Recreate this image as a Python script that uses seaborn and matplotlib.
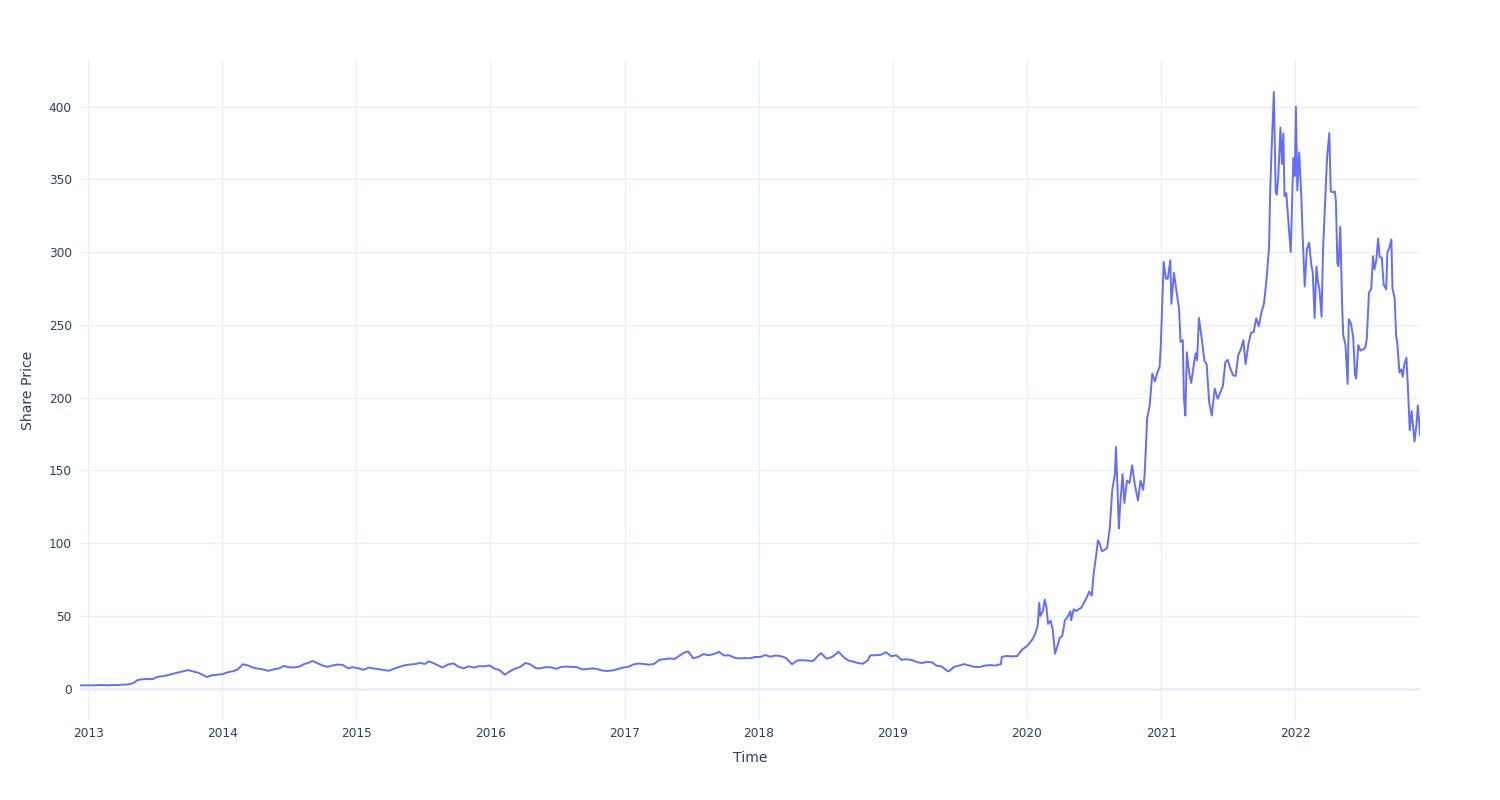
import pandas as pd
import matplotlib
matplotlib.use("Agg")
import matplotlib.pyplot as plt
import matplotlib.dates as mdates
import seaborn as sns

# share price (split adjusted)
dates = [
    "2012-12-10", "2012-12-24", "2013-01-07", "2013-01-22", "2013-02-05", "2013-02-20",
    "2013-03-06", "2013-03-20", "2013-04-03", "2013-04-17", "2013-05-01", "2013-05-09",
    "2013-05-15", "2013-05-29", "2013-06-12", "2013-06-26", "2013-07-10", "2013-07-24",
    "2013-08-07", "2013-08-21", "2013-09-04", "2013-09-18", "2013-10-01", "2013-10-15",
    "2013-10-29", "2013-11-12", "2013-11-20", "2013-12-04", "2013-12-18", "2014-01-02",
    "2014-01-16", "2014-01-30", "2014-02-13", "2014-02-26", "2014-03-12", "2014-03-26",
    "2014-04-09", "2014-04-23", "2014-05-07", "2014-05-21", "2014-06-04", "2014-06-18",
    "2014-07-02", "2014-07-16", "2014-07-30", "2014-08-13", "2014-08-27", "2014-09-04",
    "2014-09-18", "2014-10-01", "2014-10-15", "2014-10-29", "2014-11-12", "2014-11-26",
    "2014-12-10", "2014-12-22", "2015-01-07", "2015-01-21", "2015-02-04", "2015-02-18",
    "2015-03-04", "2015-03-18", "2015-04-01", "2015-04-15", "2015-04-29", "2015-05-13",
    "2015-05-27", "2015-06-10", "2015-06-24", "2015-07-08", "2015-07-17", "2015-07-29",
    "2015-08-12", "2015-08-24", "2015-09-09", "2015-09-23", "2015-10-07", "2015-10-21",
    "2015-11-04", "2015-11-18", "2015-12-02", "2015-12-16", "2015-12-30", "2016-01-13",
    "2016-01-27", "2016-02-10", "2016-02-24", "2016-03-09", "2016-03-23", "2016-04-06",
    "2016-04-20", "2016-05-04", "2016-05-18", "2016-06-01", "2016-06-15", "2016-06-29",
    "2016-07-13", "2016-07-27", "2016-08-10", "2016-08-24", "2016-09-07", "2016-09-21",
    "2016-10-05", "2016-10-19", "2016-11-02", "2016-11-16", "2016-11-30", "2016-12-14",
    "2016-12-28", "2017-01-11", "2017-01-25", "2017-02-08", "2017-02-23", "2017-03-08",
    "2017-03-22", "2017-04-05", "2017-04-19", "2017-05-03", "2017-05-17", "2017-05-31",
    "2017-06-14", "2017-06-23", "2017-07-07", "2017-07-21", "2017-08-04", "2017-08-18",
    "2017-09-01", "2017-09-15", "2017-09-29", "2017-10-13", "2017-10-27", "2017-11-10",
    "2017-11-24", "2017-12-08", "2017-12-22", "2018-01-05", "2018-01-19", "2018-02-02",
    "2018-02-16", "2018-03-02", "2018-03-16", "2018-04-02", "2018-04-16", "2018-04-30",
    "2018-05-14", "2018-05-29", "2018-06-12", "2018-06-20", "2018-07-05", "2018-07-19",
    "2018-08-07", "2018-08-21", "2018-09-04", "2018-09-18", "2018-09-28", "2018-10-12",
    "2018-10-24", "2018-11-02", "2018-11-16", "2018-11-30", "2018-12-14", "2018-12-28",
    "2019-01-11", "2019-01-25", "2019-02-08", "2019-02-22", "2019-03-08", "2019-03-22",
    "2019-04-05", "2019-04-19", "2019-04-30", "2019-05-14", "2019-05-28", "2019-06-03",
    "2019-06-17", "2019-07-01", "2019-07-15", "2019-07-29", "2019-08-12", "2019-08-26",
    "2019-09-09", "2019-09-23", "2019-10-07", "2019-10-23", "2019-10-25", "2019-11-08",
    "2019-11-22", "2019-12-06", "2019-12-20",
    "2020-01-03", "2020-01-10", "2020-01-17", "2020-01-24", "2020-01-31", "2020-02-04",
    "2020-02-07", "2020-02-14", "2020-02-19", "2020-02-24", "2020-02-28", "2020-03-06",
    "2020-03-12", "2020-03-18", "2020-03-24", "2020-03-31", "2020-04-07", "2020-04-14",
    "2020-04-21", "2020-04-29", "2020-05-01", "2020-05-08", "2020-05-15", "2020-05-22",
    "2020-05-29", "2020-06-05", "2020-06-12", "2020-06-19", "2020-06-26", "2020-07-02",
    "2020-07-08", "2020-07-13", "2020-07-17", "2020-07-24", "2020-07-31", "2020-08-07",
    "2020-08-14", "2020-08-21", "2020-08-28", "2020-08-31", "2020-09-04", "2020-09-08",
    "2020-09-11", "2020-09-18", "2020-09-23", "2020-09-30", "2020-10-07", "2020-10-14",
    "2020-10-21", "2020-10-30", "2020-11-06", "2020-11-13", "2020-11-17", "2020-11-24",
    "2020-12-01", "2020-12-08", "2020-12-15", "2020-12-21", "2020-12-28", "2020-12-31",
    "2021-01-08", "2021-01-14", "2021-01-19", "2021-01-26", "2021-01-29", "2021-02-05",
    "2021-02-12", "2021-02-19", "2021-02-23", "2021-03-01", "2021-03-04", "2021-03-08",
    "2021-03-12", "2021-03-18", "2021-03-24", "2021-03-31", "2021-04-05", "2021-04-09",
    "2021-04-14", "2021-04-22", "2021-04-29", "2021-05-05", "2021-05-12", "2021-05-19",
    "2021-05-27", "2021-06-04", "2021-06-11", "2021-06-18", "2021-06-25", "2021-07-01",
    "2021-07-09", "2021-07-16", "2021-07-23", "2021-07-30", "2021-08-06", "2021-08-13",
    "2021-08-19", "2021-08-27", "2021-09-03", "2021-09-10", "2021-09-17", "2021-09-24",
    "2021-10-01", "2021-10-08", "2021-10-15", "2021-10-22", "2021-10-25", "2021-10-29",
    "2021-11-04", "2021-11-09", "2021-11-12", "2021-11-16", "2021-11-22", "2021-11-26",
    "2021-11-30", "2021-12-03", "2021-12-08", "2021-12-14", "2021-12-20", "2021-12-27",
    "2021-12-31", "2022-01-03", "2022-01-07", "2022-01-12", "2022-01-18", "2022-01-21",
    "2022-01-27", "2022-02-02", "2022-02-08", "2022-02-14", "2022-02-18", "2022-02-23",
    "2022-02-28", "2022-03-04", "2022-03-08", "2022-03-14", "2022-03-18", "2022-03-24",
    "2022-03-29", "2022-04-04", "2022-04-08", "2022-04-13", "2022-04-19", "2022-04-22",
    "2022-04-26", "2022-04-29", "2022-05-04", "2022-05-09", "2022-05-12", "2022-05-18",
    "2022-05-24", "2022-05-27", "2022-06-02", "2022-06-08", "2022-06-13", "2022-06-16",
    "2022-06-22", "2022-06-28", "2022-07-05", "2022-07-11", "2022-07-15", "2022-07-21",
    "2022-07-27", "2022-08-01", "2022-08-05", "2022-08-10", "2022-08-15", "2022-08-19",
    "2022-08-25", "2022-08-30", "2022-09-06", "2022-09-09", "2022-09-14", "2022-09-20",
    "2022-09-23", "2022-09-29", "2022-10-03", "2022-10-06", "2022-10-12", "2022-10-17",
    "2022-10-21", "2022-10-25", "2022-10-31", "2022-11-04", "2022-11-09", "2022-11-14",
    "2022-11-18", "2022-11-22", "2022-11-28", "2022-12-01", "2022-12-05", "2022-12-07",
]
prices = [
    2.25, 2.25, 2.32, 2.35, 2.55, 2.32,
    2.5, 2.5, 2.75, 2.9, 3.6, 4.6,
    5.9, 6.5, 6.7, 6.6, 8.2, 8.6,
    9.4, 10.3, 11.2, 12.0, 12.8, 11.8,
    10.9, 9.2, 8.0, 9.2, 9.6, 10.0,
    11.3, 12.0, 13.3, 16.8, 16.0, 14.5,
    13.8, 13.2, 12.3, 13.3, 13.9, 15.6,
    14.8, 14.6, 15.2, 17.0, 18.0, 19.1,
    17.5, 16.0, 15.0, 16.0, 16.6, 16.3,
    14.0, 14.8, 14.0, 13.0, 14.5, 13.9,
    13.4, 12.8, 12.4, 13.8, 15.0, 16.1,
    16.6, 16.9, 17.7, 17.0, 18.8, 17.8,
    16.0, 14.6, 16.7, 17.4, 15.0, 14.0,
    15.4, 14.5, 15.5, 15.4, 16.0, 13.8,
    12.7, 9.6, 12.0, 13.8, 15.0, 17.7,
    16.6, 14.1, 14.0, 14.9, 14.6, 13.7,
    15.0, 15.2, 15.0, 14.8, 13.3, 13.5,
    14.0, 13.5, 12.4, 12.2, 12.6, 13.5,
    14.6, 15.0, 16.7, 17.3, 17.0, 16.5,
    17.0, 19.7, 20.3, 20.8, 20.4, 22.8,
    25.0, 25.6, 20.9, 21.9, 23.8, 23.0,
    23.8, 25.3, 22.8, 23.0, 21.3, 20.8,
    21.0, 20.9, 21.8, 21.8, 23.1, 22.0,
    22.8, 22.4, 21.1, 16.8, 19.4, 19.6,
    19.3, 19.0, 22.7, 24.4, 20.6, 21.7,
    25.3, 21.5, 19.2, 18.5, 17.6, 17.2,
    19.2, 23.0, 23.0, 23.3, 25.1, 22.3,
    23.0, 19.8, 20.3, 19.7, 18.3, 17.6,
    18.5, 18.0, 15.9, 15.3, 12.6, 11.9,
    15.0, 15.9, 16.9, 15.9, 15.0, 14.9,
    15.9, 16.2, 15.9, 16.9, 21.9, 22.5,
    22.2, 22.4, 27.0,
    29.5, 31.9, 34.0, 37.6, 43.4, 59.1,
    49.9, 53.3, 61.2, 55.6, 44.5, 46.8,
    40.5, 24.1, 28.7, 34.9, 36.4, 47.0,
    49.2, 53.3, 47.0, 54.6, 53.3, 54.7,
    55.7, 59.0, 62.4, 66.7, 63.9, 80.6,
    91.4, 101.9, 100.1, 94.5, 95.4, 96.7,
    110.0, 136.7, 147.4, 166.1, 139.4, 110.1,
    124.2, 147.4, 127.7, 143.0, 141.4, 153.5,
    140.9, 129.3, 143.0, 136.7, 146.6, 185.7,
    194.9, 216.6, 211.1, 216.6, 221.2, 235.2,
    293.3, 281.7, 281.7, 294.4, 264.5, 285.7,
    272.8, 260.9, 238.2, 239.5, 200.3, 187.7,
    231.2, 217.4, 210.1, 222.6, 230.5, 225.7,
    254.8, 239.7, 225.2, 223.0, 196.6, 187.7,
    206.2, 199.3, 203.4, 207.8, 224.5, 226.0,
    219.7, 215.3, 214.9, 229.1, 233.3, 239.5,
    223.0, 237.0, 244.7, 245.0, 254.5, 249.0,
    258.4, 264.5, 281.0, 303.5, 341.6, 371.3,
    410.0, 341.2, 339.5, 351.6, 385.6, 360.6,
    381.6, 338.3, 340.5, 319.5, 300.0, 364.6,
    352.3, 399.9, 342.3, 368.5, 337.0, 314.3,
    276.4, 301.9, 306.5, 291.4, 285.7, 254.7,
    290.1, 279.6, 274.8, 255.5, 301.8, 336.9,
    365.3, 381.8, 341.8, 341.0, 341.8, 335.0,
    292.1, 290.3, 317.5, 262.4, 242.7, 236.5,
    209.4, 253.9, 251.0, 241.9, 215.7, 213.1,
    236.1, 232.3, 233.1, 234.3, 240.1, 272.2,
    274.4, 297.2, 288.2, 294.4, 309.3, 296.7,
    296.1, 277.7, 274.4, 299.7, 302.6, 308.7,
    275.3, 268.2, 242.4, 238.1, 217.2, 219.4,
    214.4, 222.4, 227.5, 207.5, 177.6, 190.9,
    180.2, 169.9, 182.9, 194.7, 182.5, 174.0,
]

df = pd.DataFrame({"Time": pd.to_datetime(dates), "Share Price": prices})

sns.set_theme(style="white")
plt.rcParams["font.family"] = ["DejaVu Sans"]

grid_col = "#EBF0F8"
text_col = "#2a3f5f"

fig, ax = plt.subplots(figsize=(15, 8), dpi=100)
fig.subplots_adjust(left=80/1500, right=1420/1500, top=1-60/800, bottom=1-720/800)

sns.lineplot(data=df, x="Time", y="Share Price", color="#636EFA", linewidth=1.4, ax=ax)

ax.set_xlim(df["Time"].min(), df["Time"].max())
ax.set_ylim(-21.5, 432)
ax.set_yticks(range(0, 401, 50))
ax.xaxis.set_major_locator(mdates.YearLocator())
ax.xaxis.set_major_formatter(mdates.DateFormatter("%Y"))

ax.grid(True, color=grid_col, linewidth=1)
ax.set_axisbelow(True)
ax.axhline(0, color=grid_col, linewidth=2, zorder=0)
for s in ax.spines.values():
    s.set_visible(False)

ax.tick_params(axis="both", length=0, labelsize=8.7, colors=text_col)
ax.tick_params(axis="y", pad=6)
ax.tick_params(axis="x", pad=5)
ax.set_xlabel("Time", fontsize=10.1, color=text_col, labelpad=8)
ax.set_ylabel("Share Price", fontsize=10.1, color=text_col, labelpad=10)

fig.savefig("out.png", dpi=100)
